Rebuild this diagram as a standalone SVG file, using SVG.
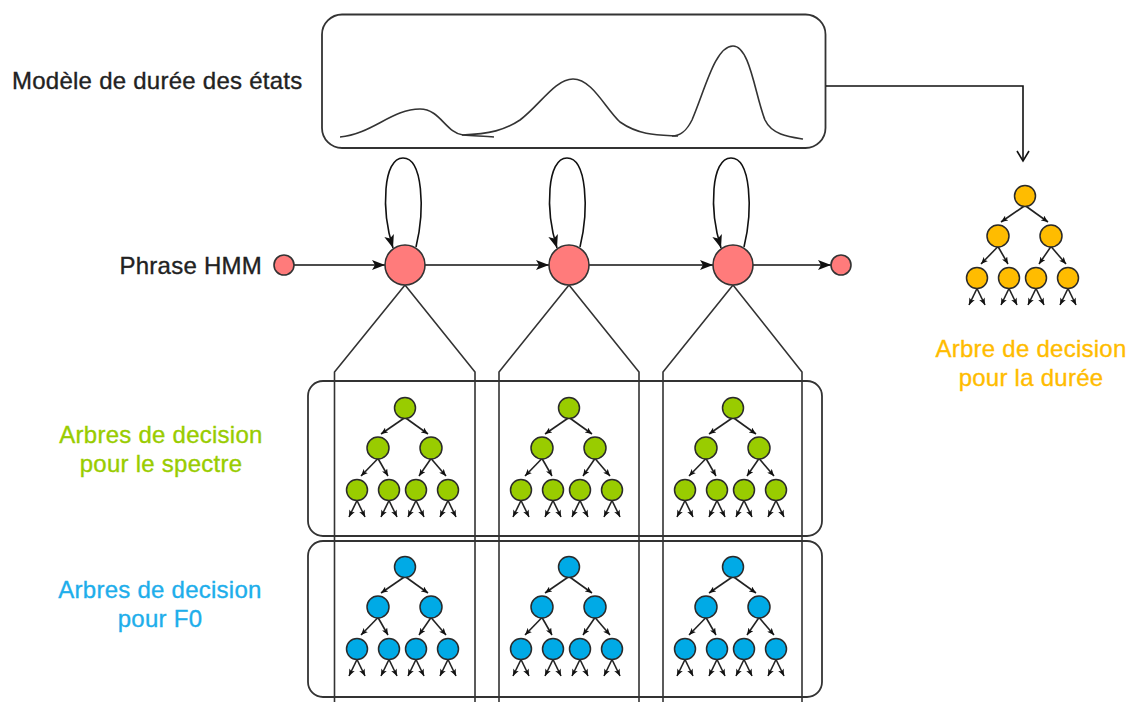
<svg xmlns="http://www.w3.org/2000/svg" xmlns:xlink="http://www.w3.org/1999/xlink" width="1133" height="702" viewBox="0 0 1133 702">
<style>
.t{font-family:"Liberation Sans",Arial,sans-serif;font-size:24px;letter-spacing:0.25px;stroke-width:0.35px}
.ln{fill:none;stroke:#333;stroke-width:1.6}
.box{fill:none;stroke:#333;stroke-width:1.8}
.te{fill:none;stroke:#222;stroke-width:1.6;marker-end:url(#sm)}
.tn{stroke:#2a2a2a;stroke-width:1.5}
.hmm{fill:#FF7B7B;stroke:#333;stroke-width:1.6}
.arr{fill:none;stroke:#111;stroke-width:1.6;marker-end:url(#big)}
</style>
<defs>
<marker id="big" markerUnits="userSpaceOnUse" markerWidth="13" markerHeight="10" refX="13" refY="5" orient="auto" viewBox="0 0 13 10">
<path d="M0,0 L13,5 L0,10 L3,5 Z" fill="#111"/>
</marker>
<marker id="sm" markerUnits="userSpaceOnUse" markerWidth="7" markerHeight="6" refX="7" refY="3" orient="auto" viewBox="0 0 7 6">
<path d="M0,0 L7,3 L0,6 L1.8,3 Z" fill="#111"/>
</marker>
<marker id="open" markerUnits="userSpaceOnUse" markerWidth="14" markerHeight="14" refX="11" refY="7" orient="auto" viewBox="0 0 14 14">
<path d="M1,1 L11,7 L1,13" fill="none" stroke="#111" stroke-width="1.6"/>
</marker>
<g id="tree">
<line class="te" x1="0" y1="9.5" x2="-24" y2="26"/>
<line class="te" x1="0" y1="9.5" x2="23" y2="26"/>
<line class="te" x1="-27" y1="50.5" x2="-44" y2="68"/>
<line class="te" x1="-27" y1="50.5" x2="-17" y2="68"/>
<line class="te" x1="26" y1="50.5" x2="14" y2="68"/>
<line class="te" x1="26" y1="50.5" x2="41" y2="68"/>
<line class="te" x1="-48" y1="92.5" x2="-56" y2="109"/>
<line class="te" x1="-48" y1="92.5" x2="-40" y2="109"/>
<line class="te" x1="-16" y1="92.5" x2="-24" y2="109"/>
<line class="te" x1="-16" y1="92.5" x2="-8" y2="109"/>
<line class="te" x1="11" y1="92.5" x2="3" y2="109"/>
<line class="te" x1="11" y1="92.5" x2="19" y2="109"/>
<line class="te" x1="43" y1="92.5" x2="35" y2="109"/>
<line class="te" x1="43" y1="92.5" x2="51" y2="109"/>
<circle class="tn" cx="0" cy="0" r="10.5"/>
<circle class="tn" cx="-27" cy="40" r="11"/>
<circle class="tn" cx="26" cy="40" r="11"/>
<circle class="tn" cx="-48" cy="82" r="10.5"/>
<circle class="tn" cx="-16" cy="82" r="10.5"/>
<circle class="tn" cx="11" cy="82" r="10.5"/>
<circle class="tn" cx="43" cy="82" r="10.5"/>
</g>
</defs>
<rect width="1133" height="702" fill="#fff"/>

<g id="duration-model">
<rect class="box" x="322" y="14.5" width="503.5" height="133.5" rx="20"/>
<path class="ln" d="M340,137 C372,134 392,109 420,109 C440,109 446,133 463,135 C475,136 485,136 494,137"/>
<path class="ln" d="M462,135 C490,134 505,130 520,120 C540,105 555,79 573,79 C592,79 605,108 620,122 C640,136 660,135 678,136"/>
<path class="ln" d="M672,136 C680,136 686,132 692,120 C705,90 715,46 733,46 C750,46 755,95 765,120 C772,135 790,137 803,139"/>
</g>
<g id="label-duration-model"><text class="t" x="12" y="89" fill="#222" stroke="#222">Modèle de durée des états</text></g>
<g id="label-hmm"><text class="t" x="262" y="274" text-anchor="end" fill="#222" stroke="#222">Phrase HMM</text></g>

<g id="spectrum-box"><rect class="box" x="308" y="381" width="514" height="155" rx="15"/></g>
<g id="f0-box"><rect class="box" x="308" y="541" width="514" height="156" rx="15"/></g>

<g id="connectors">
<path class="ln" d="M334.5,702 L334.5,372 L405,285 L475,372 L475,702"/>
<path class="ln" d="M499,702 L499,372 L569,285 L639,372 L639,702"/>
<path class="ln" d="M663,702 L663,372 L733,285 L802,372 L802,702"/>
<path class="arr" d="M294,265 L385,265"/>
<path class="arr" d="M425,265 L549,265"/>
<path class="arr" d="M589,265 L713,265"/>
<path class="arr" d="M753,265 L831,265"/>
<path class="arr" d="M416,247 C425,210 423,158 403,158 C383,158 381,210 393,248"/>
<path class="arr" d="M580,247 C589,210 587,158 567,158 C547,158 545,210 557,248"/>
<path class="arr" d="M744,247 C753,210 751,158 731,158 C711,158 709,210 721,248"/>
<path d="M826,86 L1023,86 L1023,161" fill="none" stroke="#111" stroke-width="1.6" marker-end="url(#open)"/>
</g>

<g id="hmm-start"><circle class="hmm" cx="284" cy="265" r="10"/></g>
<g id="hmm-state-1"><circle class="hmm" cx="405" cy="265" r="20"/></g>
<g id="hmm-state-2"><circle class="hmm" cx="569" cy="265" r="20"/></g>
<g id="hmm-state-3"><circle class="hmm" cx="733" cy="265" r="20"/></g>
<g id="hmm-end"><circle class="hmm" cx="841" cy="265" r="10"/></g>

<g id="spectrum-tree-1"><use xlink:href="#tree" href="#tree" x="405" y="408" fill="#99CC00"/></g>
<g id="spectrum-tree-2"><use xlink:href="#tree" href="#tree" x="569" y="408" fill="#99CC00"/></g>
<g id="spectrum-tree-3"><use xlink:href="#tree" href="#tree" x="733" y="408" fill="#99CC00"/></g>
<g id="f0-tree-1"><use xlink:href="#tree" href="#tree" x="405" y="567" fill="#00AAE6"/></g>
<g id="f0-tree-2"><use xlink:href="#tree" href="#tree" x="569" y="567" fill="#00AAE6"/></g>
<g id="f0-tree-3"><use xlink:href="#tree" href="#tree" x="733" y="567" fill="#00AAE6"/></g>
<g id="duration-tree"><use xlink:href="#tree" href="#tree" x="1025" y="196" fill="#FFBC00"/></g>

<g id="label-spectrum"><text class="t" text-anchor="middle" fill="#99CC00" stroke="#99CC00"><tspan x="161" y="443">Arbres de decision</tspan><tspan x="161" y="472">pour le spectre</tspan></text></g>
<g id="label-f0"><text class="t" text-anchor="middle" fill="#1EAEEB" stroke="#1EAEEB"><tspan x="160" y="598">Arbres de decision</tspan><tspan x="160" y="627">pour F0</tspan></text></g>
<g id="label-duration"><text class="t" text-anchor="middle" fill="#FFBC00" stroke="#FFBC00"><tspan x="1031" y="357">Arbre de decision</tspan><tspan x="1031" y="386">pour la durée</tspan></text></g>
</svg>
